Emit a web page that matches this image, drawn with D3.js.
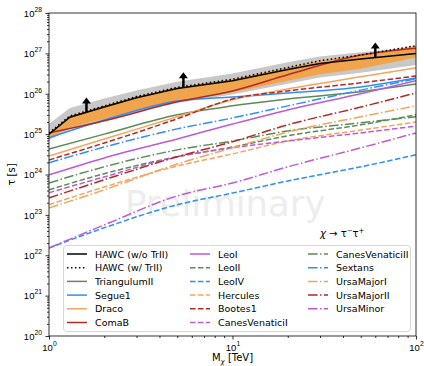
<!DOCTYPE html>
<html>
<head>
<meta charset="utf-8">
<script src="https://cdn.jsdelivr.net/npm/d3@7"></script>
<style>
  body { margin: 0; background: #fff; }
  svg { font-family: "DejaVu Sans", sans-serif; }
</style>
</head>
<body>
<div id="chart"></div>
<script>
// masses in TeV, all tau values given as log10(tau / s)
const masses = [1, 2, 5, 10, 20, 50, 100];
const hawcMasses = [1, 1.3, 2, 3, 5, 10, 20, 30, 50, 100];

const hawcNoTrII = [25.0, 25.42, 25.67, 25.9, 26.13, 26.32, 26.6, 26.75, 26.86, 27.0];
const hawcWithTrII = [25.03, 25.45, 25.7, 25.93, 26.16, 26.36, 26.65, 26.82, 26.96, 27.19];
const grayBandLow = [24.85, 25.12, 25.32, 25.55, 25.77, 25.98, 26.25, 26.4, 26.52, 26.71];
const grayBandHigh = [25.25, 25.65, 25.88, 26.08, 26.3, 26.5, 26.78, 26.92, 27.03, 27.16];
const orangeBandLow = [24.9, 25.17, 25.38, 25.6, 25.82, 26.03, 26.32, 26.48, 26.62, 26.9];
const orangeBandHigh = hawcWithTrII;

const triangulumII = [24.63, 25.0, 25.48, 25.7, 25.87, 26.05, 26.24];
const segue1 = [24.91, 25.35, 25.82, 25.92, 26.02, 26.17, 26.39];
const draco = [24.46, 24.88, 25.43, 25.85, 26.12, 26.42, 26.64];
const comaB = [25.03, 25.33, 25.8, 26.07, 26.47, 26.96, 27.13];
const leoI = [23.99, 24.41, 24.88, 25.25, 25.6, 26.0, 26.32];
const leoII = [23.62, 24.02, 24.44, 24.68, 24.96, 25.23, 25.48];
const leoIV = [22.18, 22.68, 23.25, 23.54, 23.84, 24.19, 24.49];
const hercules = [23.25, 23.69, 24.21, 24.51, 24.83, 25.1, 25.3];
const bootes1 = [24.36, 24.78, 25.38, 25.87, 26.07, 26.27, 26.44];
const canesVenaticiI = [23.55, 23.94, 24.44, 24.66, 24.83, 25.03, 25.2];
const canesVenaticiII = [23.79, 24.19, 24.61, 24.83, 25.08, 25.28, 25.43];
const sextans = [24.29, 24.68, 25.13, 25.4, 25.7, 26.09, 26.37];
const ursaMajorI = [23.17, 23.62, 24.26, 24.66, 25.05, 25.43, 25.7];
const ursaMajorII = [23.42, 23.87, 24.44, 24.81, 25.23, 25.67, 26.02];
const ursaMinor = [22.18, 22.75, 23.47, 23.79, 24.19, 24.66, 25.03];

const arrowMasses = [1.6, 5.4, 60];
const arrowBase = [25.55, 26.17, 26.91];
const arrowLength = 0.36;

const xTicks = [1, 10, 100];
const yTicks = [20, 21, 22, 23, 24, 25, 26, 27, 28];

const W = 424, H = 366;
const mLeft = 49, mRight = 416, mTop = 13, mBottom = 336;

const DASHED = "5.55,2.4", DASHDOT = "9.6,2.4,1.5,2.4", DOTTED = "1.5,2.475";
const green = "#5b8c55", blue = "#2e8ff7", orange = "#f5a45f", red = "#b22a26", purple = "#bd5ad6";

const dsph = [
  { name: "TriangulumII", v: triangulumII, color: green, dash: null },
  { name: "Segue1", v: segue1, color: blue, dash: null },
  { name: "Draco", v: draco, color: orange, dash: null },
  { name: "ComaB", v: comaB, color: red, dash: null },
  { name: "LeoI", v: leoI, color: purple, dash: null },
  { name: "LeoII", v: leoII, color: green, dash: DASHED },
  { name: "LeoIV", v: leoIV, color: blue, dash: DASHED },
  { name: "Hercules", v: hercules, color: orange, dash: DASHED },
  { name: "Bootes1", v: bootes1, color: red, dash: DASHED },
  { name: "CanesVenaticiI", v: canesVenaticiI, color: purple, dash: DASHED },
  { name: "CanesVenaticiII", v: canesVenaticiII, color: green, dash: DASHDOT },
  { name: "Sextans", v: sextans, color: blue, dash: DASHDOT },
  { name: "UrsaMajorI", v: ursaMajorI, color: orange, dash: DASHDOT },
  { name: "UrsaMajorII", v: ursaMajorII, color: red, dash: DASHDOT },
  { name: "UrsaMinor", v: ursaMinor, color: purple, dash: DASHDOT }
];

const svg = d3.select("#chart").append("svg")
  .attr("width", W).attr("height", H);

const x = d3.scaleLog().domain([1, 100]).range([mLeft, mRight]);
const y = d3.scaleLog().domain([1e20, 1e28]).range([mBottom, mTop]);

svg.append("defs").append("clipPath").attr("id", "clip")
  .append("rect").attr("x", mLeft).attr("y", mTop)
  .attr("width", mRight - mLeft).attr("height", mBottom - mTop);

// watermark
svg.append("text")
  .attr("x", 125).attr("y", 216)
  .style("font-size", "35.5px").attr("fill", "#ededed")
  .text("Preliminary");

const plot = svg.append("g").attr("clip-path", "url(#clip)");

const bandData = (lo, hi) => hawcMasses.map((m, i) => [m, lo[i], hi[i]]);
const area = d3.area()
  .x(d => x(d[0])).y0(d => y(Math.pow(10, d[1]))).y1(d => y(Math.pow(10, d[2])));

plot.append("path").datum(bandData(grayBandLow, grayBandHigh))
  .attr("d", area).attr("fill", "#c8c8c8");
plot.append("path").datum(bandData(orangeBandLow, orangeBandHigh))
  .attr("d", area).attr("fill", "#f0a54c");

const smooth = d3.line().x(d => x(d[0])).y(d => y(Math.pow(10, d[1]))).curve(d3.curveMonotoneX);
const straight = d3.line().x(d => x(d[0])).y(d => y(Math.pow(10, d[1])));

dsph.forEach(s => {
  plot.append("path").datum(masses.map((m, i) => [m, s.v[i]]))
    .attr("d", smooth).attr("fill", "none")
    .attr("stroke", s.color).attr("stroke-width", 1.5)
    .attr("stroke-dasharray", s.dash);
});

plot.append("path").datum(hawcMasses.map((m, i) => [m, hawcNoTrII[i]]))
  .attr("d", straight).attr("fill", "none").attr("stroke", "#000").attr("stroke-width", 1.5);
plot.append("path").datum(hawcMasses.map((m, i) => [m, hawcWithTrII[i]]))
  .attr("d", straight).attr("fill", "none").attr("stroke", "#000").attr("stroke-width", 1.5)
  .attr("stroke-dasharray", DOTTED);

// upper-limit arrows
arrowMasses.forEach((m, i) => {
  const ax = x(m);
  const y0 = y(Math.pow(10, arrowBase[i]));
  const y1 = y(Math.pow(10, arrowBase[i] + arrowLength));
  plot.append("line").attr("x1", ax).attr("x2", ax).attr("y1", y0).attr("y2", y1 + 5)
    .attr("stroke", "#000").attr("stroke-width", 2.5);
  plot.append("path")
    .attr("d", `M${ax - 4.5},${y1 + 6} L${ax},${y1} L${ax + 4.5},${y1 + 6} Z`)
    .attr("fill", "#000");
});

// axes
const sup = (sel, exp) => {
  sel.text(null);
  sel.append("tspan").text("10");
  sel.append("tspan").attr("dy", -5).style("font-size", "6.8px").text(exp);
};

const xMinor = [];
[1, 10].forEach(d => { for (let k = 2; k <= 9; k++) xMinor.push(d * k); });
const yMinor = [];
for (let e = 20; e < 28; e++) for (let k = 2; k <= 9; k++) yMinor.push(k * Math.pow(10, e));

const xAxis = svg.append("g").attr("transform", `translate(0,${mBottom})`)
  .call(d3.axisBottom(x).tickValues(xTicks).tickSize(3.5).tickPadding(3).tickFormat(""));
xAxis.selectAll(".tick text").each(function (d) {
  sup(d3.select(this), String(Math.round(Math.log10(d))));
}).attr("dy", null).attr("y", 15).style("font-size", "9.5px").attr("fill", "#000");
svg.append("g").attr("transform", `translate(0,${mBottom})`)
  .call(d3.axisBottom(x).tickValues(xMinor).tickSize(2).tickFormat(""));

const yAxis = svg.append("g").attr("transform", `translate(${mLeft},0)`)
  .call(d3.axisLeft(y).tickValues(yTicks.map(e => Math.pow(10, e))).tickSize(3.5).tickPadding(3.5).tickFormat(""));
yAxis.selectAll(".tick text").each(function (d) {
  sup(d3.select(this), String(Math.round(Math.log10(d))));
}).attr("dy", "0.35em").style("font-size", "9.5px").attr("fill", "#000");
svg.append("g").attr("transform", `translate(${mLeft},0)`)
  .call(d3.axisLeft(y).tickValues(yMinor).tickSize(2).tickFormat(""));

svg.selectAll(".tick line").attr("stroke-width", 0.8);
svg.selectAll(".domain").remove();

// frame
svg.append("rect").attr("x", mLeft).attr("y", mTop)
  .attr("width", mRight - mLeft).attr("height", mBottom - mTop)
  .attr("fill", "none").attr("stroke", "#000").attr("stroke-width", 0.8);

// axis labels
svg.append("text").attr("x", (mLeft + mRight) / 2).attr("y", 361)
  .attr("text-anchor", "middle").style("font-size", "10px")
  .call(t => {
    t.append("tspan").text("M");
    t.append("tspan").attr("dy", 2.5).style("font-size", "7px").style("font-style", "italic").text("χ");
    t.append("tspan").attr("dy", -2.5).text(" [TeV]");
  });
svg.append("text")
  .attr("transform", `translate(15,${(mTop + mBottom) / 2}) rotate(-90)`)
  .attr("text-anchor", "middle").style("font-size", "10px")
  .text("τ [s]");

// channel label
svg.append("text").attr("x", 320).attr("y", 237).style("font-size", "10px")
  .call(t => {
    t.append("tspan").style("font-style", "italic").text("χ");
    t.append("tspan").text(" → τ");
    t.append("tspan").attr("dy", -4).style("font-size", "7px").text("−");
    t.append("tspan").attr("dy", 4).text("τ");
    t.append("tspan").attr("dy", -4).style("font-size", "7px").text("+");
  });

// legend
const legendItems = [
  { name: "HAWC (w/o TrII)", color: "#000", dash: null },
  { name: "HAWC (w/ TrII)", color: "#000", dash: DOTTED }
].concat(dsph);
const lg = svg.append("g");
lg.append("rect").attr("x", 63.5).attr("y", 245.5).attr("width", 347).attr("height", 86)
  .attr("rx", 3).attr("fill", "#fff").attr("fill-opacity", 0.8)
  .attr("stroke", "#cccccc").attr("stroke-width", 0.8);
const colX = [67, 190, 308];
legendItems.forEach((d, i) => {
  const c = Math.floor(i / 6), r = i % 6;
  const cy = 254 + r * 13.7;
  lg.append("line").attr("x1", colX[c]).attr("x2", colX[c] + 20)
    .attr("y1", cy).attr("y2", cy)
    .attr("stroke", d.color).attr("stroke-width", 1.5).attr("stroke-dasharray", d.dash);
  lg.append("text").attr("x", colX[c] + 28).attr("y", cy + 3.5)
    .style("font-size", "9.5px").text(d.name);
});
</script>
</body>
</html>
